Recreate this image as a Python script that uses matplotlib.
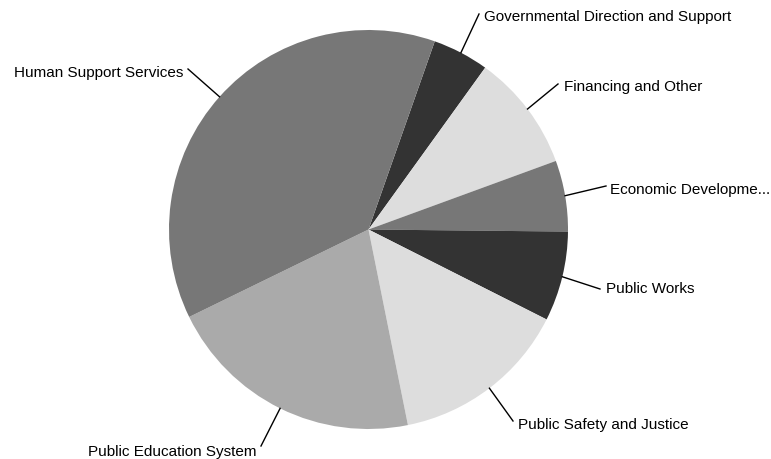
import numpy as np
import matplotlib.pyplot as plt

# spending by category, in degrees of the pie (clockwise from Governmental)
categories = ['Governmental Direction and Support', 'Financing and Other',
              'Economic Developme...', 'Public Works', 'Public Safety and Justice',
              'Public Education System', 'Human Support Services']
shares = [16.4, 34.1, 20.7, 26.2, 51.8, 75.4, 135.4]
colors = ['#333333', '#dddddd', '#777777', '#333333', '#dddddd', '#aaaaaa', '#777777']

# leader line ends and text anchors, pixel coords from top-left
label_ends = [(479, 15), (558, 85), (606, 187), (600, 290), (513, 422), (261, 447), (188, 70)]
text_pos = [(484, 17), (564, 87), (610, 190), (606, 289), (518, 425), (256, 452), (183, 73)]
label_ha = ['left', 'left', 'left', 'left', 'left', 'right', 'right']

W, H = 771, 460
fig = plt.figure(figsize=(W / 100, H / 100), dpi=100)
ax = fig.add_axes([0, 0, 1, 1])

cx, cy, r = 368.5, H - 230.5, 199.5
wedges, _ = ax.pie(shares, colors=colors, startangle=70.6, counterclock=False,
                   center=(cx, cy), radius=r, frame=True,
                   wedgeprops=dict(linewidth=0))
ax.set_xlim(0, W)
ax.set_ylim(0, H)
ax.set_aspect('equal')
ax.axis('off')

for w, name, (ex, ey), (tx, ty), ha in zip(wedges, categories, label_ends, text_pos, label_ha):
    mid = np.deg2rad((w.theta1 + w.theta2) / 2)
    sx, sy = cx + r * np.cos(mid), cy + r * np.sin(mid)
    ax.plot([sx, ex], [sy, H - ey], color='black', linewidth=1)
    ax.text(tx, H - ty, name, ha=ha, va='center', fontsize=11,
            family='Liberation Sans', color='black')

fig.savefig('out.png', dpi=100)
